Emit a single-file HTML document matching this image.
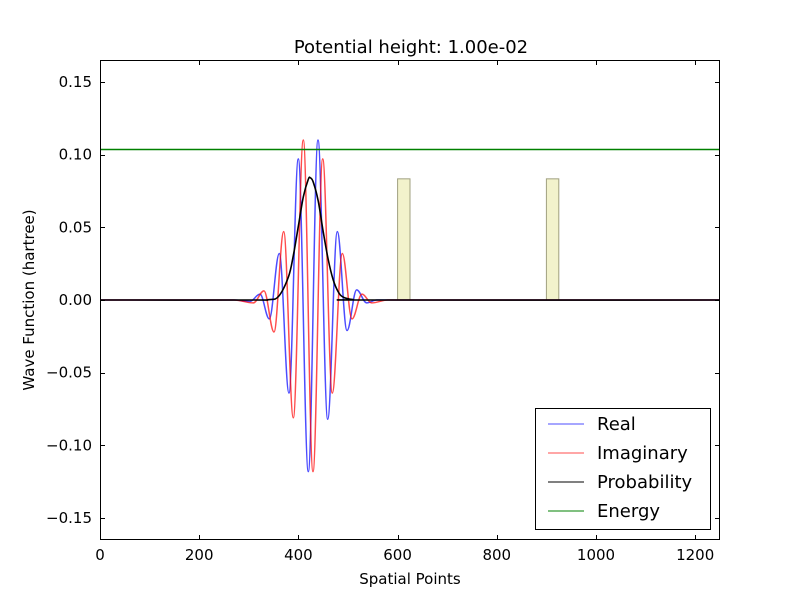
<!DOCTYPE html>
<html><head><meta charset="utf-8"><style>
body{margin:0;background:#fff}
svg{display:block;font-family:"DejaVu Sans","Liberation Sans",sans-serif}
</style></head><body>
<svg id="chart" width="800" height="600">
<rect width="800" height="600" fill="#fff"/>
<text x="411" y="53" font-size="18" text-anchor="middle">Potential height: 1.00e-02</text>
<g id="plot"></g>
<g id="axes"></g>
<text x="410" y="584" font-size="15" text-anchor="middle">Spatial Points</text>
<text transform="translate(34,300) rotate(-90)" font-size="15" text-anchor="middle">Wave Function (hartree)</text>
<g>
<rect x="535.5" y="408.5" width="175" height="121" fill="#fff" stroke="#000" stroke-width="1"/>
<g><line x1="548" y1="424" x2="584" y2="424" stroke="#0000ff" stroke-opacity="0.7"/><text x="597" y="430" font-size="18">Real</text></g>
<g><line x1="548" y1="453" x2="584" y2="453" stroke="#ff0000" stroke-opacity="0.7"/><text x="597" y="459" font-size="18">Imaginary</text></g>
<g><line x1="548" y1="482" x2="584" y2="482" stroke="#000"/><text x="597" y="488" font-size="18">Probability</text></g>
<g><line x1="548" y1="511" x2="584" y2="511" stroke="#008000"/><text x="597" y="517" font-size="18">Energy</text></g>
</g>
</svg>
<script>
const realX=[0,270,302,322.6,341.3,361.5,381.0,399.8,420.0,439.5,459.1,478.4,498.0,517.5,537.7,557.9,600,1250];
const realY=[0,0,-0.001,0.004,-0.013,0.032,-0.064,0.097,-0.118,0.110,-0.082,0.047,-0.021,0.007,-0.002,0,0,0];
const imagX=[0,270,309,330.6,350.8,370.4,389.7,409.9,429.4,449.0,468.3,488.5,508.1,528.2,547.8,580,1250];
const imagY=[0,0,-0.002,0.0063,-0.022,0.047,-0.081,0.110,-0.118,0.097,-0.064,0.032,-0.013,0.004,-0.002,0,0];
const probX=[0,300,340,360,380,390,400,410,420,424,430,440,450,460,470,480,490,510,540,1250];
const probY=[0,0,0.0002,0.0025,0.016,0.031,0.051,0.071,0.083,0.084,0.081,0.068,0.047,0.028,0.014,0.0058,0.002,0.0003,0,0];
const barrierStart=[600,900];
const barrierEnd=[625,925];
const barrierHeight=[0.0833,0.0833];
const energy=0.1035;
const xTicks=[0,200,400,600,800,1000,1200];
const yTicks=[-0.15,-0.10,-0.05,0.00,0.05,0.10,0.15];
const yTickLabels=["\u22120.15","\u22120.10","\u22120.05","0.00","0.05","0.10","0.15"];

const L=100,R=720,T=60,B=540,xmin=0,xmax=1250,ymin=-0.165,ymax=0.165;
const sx=v=>L+(v-xmin)/(xmax-xmin)*(R-L);
const sy=v=>B-(v-ymin)/(ymax-ymin)*(B-T);
const NS='http://www.w3.org/2000/svg';
const plot=document.getElementById('plot'),axes=document.getElementById('axes');
function mk(tag,attrs,parent){const e=document.createElementNS(NS,tag);for(const k in attrs)e.setAttribute(k,attrs[k]);parent.appendChild(e);return e;}

for(let i=0;i<barrierStart.length;i++){
  const r=mk('rect',{x:sx(barrierStart[i]),y:sy(barrierHeight[i]),width:sx(barrierEnd[i])-sx(barrierStart[i]),height:sy(0)-sy(barrierHeight[i]),fill:'#eeeebb',stroke:'#a0a080','stroke-width':1,'fill-opacity':0.75},plot);
  
  
}
function wavePath(xs,ys){
  let d='M'+sx(xs[0])+','+sy(ys[0]);
  for(let i=1;i<xs.length;i++){
    const x0=sx(xs[i-1]),x1=sx(xs[i]),y0=sy(ys[i-1]),y1=sy(ys[i]),dx=x1-x0;
    d+=' C'+(x0+dx*0.364)+','+y0+' '+(x1-dx*0.364)+','+y1+' '+x1+','+y1;
  }
  return d;
}
function smoothPath(xs,ys){
  const p=xs.map((x,i)=>[sx(x),sy(ys[i])]);
  let d='M'+p[0][0]+','+p[0][1];
  for(let i=0;i<p.length-1;i++){
    const a=p[Math.max(0,i-1)],b=p[i],c=p[i+1],e=p[Math.min(p.length-1,i+2)];
    d+=' C'+(b[0]+(c[0]-a[0])/6)+','+(b[1]+(c[1]-a[1])/6)+' '+(c[0]-(e[0]-b[0])/6)+','+(c[1]-(e[1]-b[1])/6)+' '+c[0]+','+c[1];
  }
  return d;
}
const real=mk('path',{d:wavePath(realX,realY),fill:'none',stroke:'#0000ff','stroke-opacity':0.7,'stroke-width':1.5},plot);


const imag=mk('path',{d:wavePath(imagX,imagY),fill:'none',stroke:'#ff0000','stroke-opacity':0.7,'stroke-width':1.5},plot);


const prob=mk('path',{d:smoothPath(probX,probY),fill:'none',stroke:'#000','stroke-width':1.6},plot);


const en=mk('line',{x1:sx(xmin),x2:sx(xmax),y1:sy(energy),y2:sy(energy),stroke:'#008000','stroke-width':1.5},plot);



const fr=mk('rect',{x:L+0.5,y:T+0.5,width:R-L-1,height:B-T-1,fill:'none',stroke:'#000','stroke-width':1},axes);


xTicks.forEach(v=>{
  const x=Math.round(sx(v))+0.5;
  mk('line',{x1:x,x2:x,y1:B,y2:B-5,stroke:'#000'},axes);
  mk('line',{x1:x,x2:x,y1:T,y2:T+5,stroke:'#000'},axes);
  const t=mk('text',{x:sx(v),y:B+20,'font-size':15,'text-anchor':'middle'},axes);
  t.textContent=v;
  
  
});
yTicks.forEach((v,i)=>{
  const y=Math.round(sy(v))+0.5;
  mk('line',{x1:L,x2:L+5,y1:y,y2:y,stroke:'#000'},axes);
  mk('line',{x1:R,x2:R-5,y1:y,y2:y,stroke:'#000'},axes);
  const t=mk('text',{x:L-8,y:sy(v)+5,'font-size':15,'text-anchor':'end'},axes);
  t.textContent=yTickLabels[i];
  
  
});
</script>
</body></html>
